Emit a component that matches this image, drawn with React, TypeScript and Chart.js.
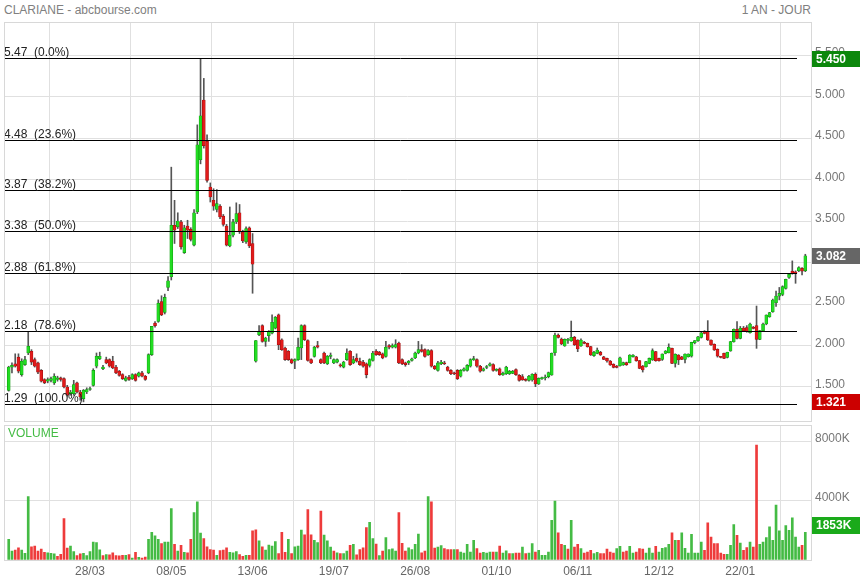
import React, { useEffect, useRef } from 'react';
import { Chart, registerables } from 'chart.js';

Chart.register(...registerables);

const TITLE = 'CLARIANE - abcbourse.com';
const PERIOD = '1 AN - JOUR';

const TICK_INDEX = [25, 50, 75, 100, 125, 150, 175, 200, 225];
const TICK_LABELS = ['28/03', '08/05', '13/06', '19/07', '26/08', '01/10', '06/11', '12/12', '22/01'];
const PRICE_TICKS = [1.5, 2, 2.5, 3, 3.5, 4, 4.5, 5, 5.5];
const VOLUME_TICKS = [4000, 8000];
const FIB_LEVELS = [5.47, 4.48, 3.87, 3.38, 2.88, 2.18, 1.29];
const FIB_PCT = ['0.0%', '23.6%', '38.2%', '50.0%', '61.8%', '78.6%', '100.0%'];

const OPEN = [
  1.46, 1.74, 1.78, 1.86, 1.65, 1.77, 1.91, 1.93, 1.83, 1.79,
  1.70, 1.59, 1.57, 1.58, 1.55, 1.59, 1.61, 1.60, 1.50, 1.42,
  1.42, 1.55, 1.44, 1.36, 1.44, 1.47, 1.52, 1.75, 1.84, 1.72,
  1.83, 1.83, 1.81, 1.74, 1.69, 1.65, 1.58, 1.62, 1.60, 1.65,
  1.63, 1.67, 1.63, 1.67, 1.89, 2.27, 2.29, 2.53, 2.40, 2.70,
  2.83, 3.45, 3.43, 3.49, 3.12, 3.44, 3.40, 3.21, 3.61, 4.24,
  4.96, 4.46, 3.91, 3.75, 3.64, 3.68, 3.56, 3.44, 3.20, 3.33,
  3.49, 3.60, 3.37, 3.25, 3.42, 3.23, 1.81, 2.13, 2.24, 2.05,
  2.12, 2.15, 2.21, 2.37, 2.07, 1.97, 1.93, 1.83, 1.81, 1.83,
  1.97, 2.24, 2.06, 1.83, 1.87, 2.00, 1.83, 1.91, 1.78, 1.87,
  1.79, 1.80, 1.765, 1.74, 1.83, 1.93, 1.79, 1.85, 1.81, 1.80,
  1.78, 1.76, 1.82, 1.93, 1.92, 1.90, 1.87, 2.00, 1.98, 1.98,
  2.03, 1.83, 1.79, 1.79, 1.82, 1.85, 1.91, 1.95, 1.95, 1.89,
  1.94, 1.75, 1.70, 1.78, 1.79, 1.74, 1.70, 1.67, 1.70, 1.63,
  1.70, 1.70, 1.75, 1.83, 1.83, 1.75, 1.70, 1.735, 1.76, 1.77,
  1.70, 1.72, 1.645, 1.66, 1.66, 1.665, 1.71, 1.64, 1.625, 1.595,
  1.58, 1.584, 1.653, 1.536, 1.600, 1.608, 1.625, 1.645, 1.914, 2.126,
  2.078, 1.994, 2.062, 2.058, 2.098, 2.066, 1.994, 2.038, 2.026, 1.986,
  1.878, 1.906, 1.918, 1.865, 1.845, 1.813, 1.773, 1.753, 1.757, 1.765,
  1.793, 1.793, 1.866, 1.865, 1.817, 1.753, 1.745, 1.785, 1.825, 1.926,
  1.845, 1.833, 1.906, 1.914, 1.966, 1.785, 1.886, 1.865, 1.833, 1.865,
  1.873, 2.034, 2.058, 2.098, 2.167, 2.167, 2.066, 2.014, 1.954, 1.862,
  1.906, 1.857, 1.934, 2.046, 2.195, 2.086, 2.211, 2.215, 2.155, 2.215,
  2.239, 2.074, 2.179, 2.259, 2.347, 2.408, 2.516, 2.596, 2.616, 2.689,
  2.821, 2.897, 2.889, 2.901, 2.929, 2.901,
];

const HIGH = [
  1.75, 1.79, 1.90, 1.90, 1.84, 1.87, 2.17, 1.95, 1.85, 1.80,
  1.71, 1.60, 1.61, 1.62, 1.66, 1.63, 1.62, 1.61, 1.52, 1.46,
  1.58, 1.56, 1.46, 1.47, 1.49, 1.50, 1.72, 1.91, 1.92, 1.76,
  1.86, 1.84, 1.87, 1.76, 1.70, 1.66, 1.63, 1.64, 1.66, 1.66,
  1.68, 1.69, 1.64, 1.90, 2.23, 2.29, 2.55, 2.60, 2.62, 2.83,
  4.15, 3.75, 3.60, 3.51, 3.45, 3.51, 3.42, 3.64, 4.66, 5.45,
  5.22, 4.54, 3.96, 3.89, 3.88, 3.70, 3.58, 3.46, 3.67, 3.52,
  3.72, 3.70, 3.39, 3.43, 3.43, 3.35, 2.06, 2.24, 2.25, 2.10,
  2.18, 2.37, 2.35, 2.38, 2.08, 1.98, 1.94, 1.84, 1.84, 2.09,
  2.25, 2.25, 2.07, 1.84, 1.99, 2.05, 1.84, 1.92, 1.88, 1.91,
  1.84, 1.84, 1.78, 1.81, 1.96, 1.94, 1.87, 1.90, 1.85, 1.82,
  1.79, 1.84, 1.93, 1.95, 1.93, 1.91, 2.05, 2.01, 2.02, 2.07,
  2.04, 1.84, 1.80, 1.82, 1.85, 1.92, 2.05, 2.01, 1.96, 1.95,
  1.95, 1.76, 1.81, 1.82, 1.81, 1.75, 1.71, 1.68, 1.71, 1.71,
  1.73, 1.77, 1.84, 1.87, 1.84, 1.76, 1.73, 1.76, 1.79, 1.78,
  1.72, 1.73, 1.68, 1.75, 1.70, 1.70, 1.72, 1.65, 1.65, 1.60,
  1.64, 1.66, 1.67, 1.61, 1.62, 1.645, 1.68, 1.91, 2.15, 2.14,
  2.09, 2.08, 2.086, 2.295, 2.11, 2.07, 2.08, 2.05, 2.03, 1.99,
  1.93, 1.97, 1.93, 1.87, 1.85, 1.82, 1.78, 1.76, 1.86, 1.80,
  1.80, 1.89, 1.89, 1.87, 1.82, 1.76, 1.81, 1.85, 1.96, 1.93,
  1.85, 1.90, 1.94, 2.02, 1.97, 1.90, 1.89, 1.87, 1.90, 1.90,
  2.04, 2.06, 2.11, 2.16, 2.18, 2.30, 2.07, 2.02, 1.96, 1.87,
  1.91, 1.92, 2.05, 2.20, 2.29, 2.23, 2.23, 2.24, 2.27, 2.23,
  2.476, 2.18, 2.27, 2.37, 2.40, 2.56, 2.656, 2.70, 2.72, 2.80,
  2.86, 3.02, 2.90, 2.95, 2.94, 3.10,
];

const LOW = [
  1.45, 1.67, 1.74, 1.67, 1.63, 1.76, 1.89, 1.77, 1.74, 1.66,
  1.56, 1.54, 1.55, 1.56, 1.53, 1.57, 1.57, 1.49, 1.39, 1.40,
  1.40, 1.43, 1.34, 1.321, 1.42, 1.46, 1.51, 1.73, 1.83, 1.71,
  1.78, 1.74, 1.72, 1.66, 1.63, 1.59, 1.57, 1.58, 1.59, 1.57,
  1.62, 1.62, 1.58, 1.66, 1.88, 2.22, 2.28, 2.36, 2.38, 2.66,
  2.79, 3.23, 3.41, 3.16, 3.11, 3.29, 3.26, 3.20, 3.59, 4.19,
  4.38, 3.97, 3.73, 3.63, 3.61, 3.53, 3.44, 3.20, 3.19, 3.31,
  3.47, 3.35, 3.24, 3.23, 3.18, 2.63, 1.80, 2.12, 2.04, 1.99,
  2.05, 2.14, 2.20, 1.95, 1.94, 1.82, 1.82, 1.78, 1.72, 1.82,
  1.83, 2.06, 1.81, 1.78, 1.86, 1.97, 1.78, 1.78, 1.77, 1.84,
  1.78, 1.79, 1.74, 1.73, 1.82, 1.76, 1.78, 1.80, 1.76, 1.74,
  1.61, 1.74, 1.81, 1.88, 1.88, 1.84, 1.86, 1.96, 1.97, 1.97,
  1.78, 1.77, 1.75, 1.77, 1.81, 1.84, 1.90, 1.92, 1.86, 1.88,
  1.74, 1.71, 1.69, 1.77, 1.77, 1.69, 1.65, 1.65, 1.59, 1.62,
  1.69, 1.69, 1.74, 1.82, 1.74, 1.68, 1.69, 1.72, 1.75, 1.69,
  1.69, 1.64, 1.64, 1.65, 1.65, 1.66, 1.64, 1.57, 1.58, 1.57,
  1.57, 1.57, 1.504, 1.53, 1.59, 1.584, 1.61, 1.64, 1.88, 2.09,
  2.01, 1.99, 2.026, 2.05, 2.00, 1.926, 1.99, 2.02, 1.98, 1.88,
  1.87, 1.90, 1.88, 1.83, 1.80, 1.76, 1.73, 1.73, 1.75, 1.76,
  1.76, 1.79, 1.86, 1.81, 1.72, 1.68, 1.74, 1.78, 1.82, 1.81,
  1.81, 1.82, 1.90, 1.91, 1.78, 1.74, 1.77, 1.83, 1.79, 1.86,
  1.86, 2.02, 2.05, 2.09, 2.14, 2.06, 2.00, 1.94, 1.86, 1.85,
  1.84, 1.85, 1.93, 2.04, 2.08, 2.08, 2.17, 2.16, 2.15, 2.20,
  1.966, 2.07, 2.17, 2.25, 2.34, 2.40, 2.47, 2.55, 2.60, 2.68,
  2.81, 2.86, 2.75, 2.89, 2.85, 2.89,
];

const CLOSE = [
  1.74, 1.76, 1.75, 1.69, 1.81, 1.83, 1.99, 1.80, 1.75, 1.68,
  1.57, 1.55, 1.59, 1.60, 1.63, 1.61, 1.59, 1.50, 1.40, 1.44,
  1.53, 1.44, 1.38, 1.46, 1.47, 1.48, 1.70, 1.87, 1.87, 1.74,
  1.79, 1.75, 1.73, 1.67, 1.64, 1.60, 1.61, 1.59, 1.65, 1.58,
  1.67, 1.63, 1.59, 1.89, 2.23, 2.24, 2.51, 2.37, 2.58, 2.78,
  3.45, 3.39, 3.50, 3.19, 3.42, 3.39, 3.28, 3.60, 4.42, 4.77,
  4.41, 3.99, 3.79, 3.68, 3.71, 3.55, 3.46, 3.21, 3.33, 3.49,
  3.59, 3.37, 3.26, 3.41, 3.20, 2.98, 2.06, 2.17, 2.05, 2.09,
  2.17, 2.28, 2.34, 2.01, 1.95, 1.83, 1.83, 1.79, 1.83, 1.98,
  2.24, 2.07, 1.82, 1.79, 1.98, 1.98, 1.79, 1.79, 1.87, 1.885,
  1.83, 1.83, 1.755, 1.80, 1.91, 1.77, 1.83, 1.81, 1.77, 1.75,
  1.65, 1.83, 1.91, 1.89, 1.89, 1.85, 1.98, 1.98, 2.00, 2.01,
  1.79, 1.78, 1.77, 1.81, 1.84, 1.91, 1.95, 1.93, 1.87, 1.94,
  1.75, 1.72, 1.79, 1.80, 1.78, 1.70, 1.66, 1.66, 1.60, 1.70,
  1.72, 1.76, 1.83, 1.835, 1.75, 1.69, 1.72, 1.74, 1.78, 1.70,
  1.705, 1.65, 1.665, 1.74, 1.69, 1.69, 1.65, 1.58, 1.585, 1.58,
  1.63, 1.653, 1.536, 1.604, 1.608, 1.616, 1.673, 1.906, 2.126, 2.098,
  2.018, 2.074, 2.070, 2.098, 2.010, 1.958, 2.066, 2.026, 1.986, 1.886,
  1.918, 1.946, 1.886, 1.833, 1.813, 1.765, 1.737, 1.737, 1.853, 1.793,
  1.769, 1.886, 1.886, 1.817, 1.725, 1.705, 1.805, 1.845, 1.938, 1.817,
  1.817, 1.898, 1.934, 1.978, 1.785, 1.894, 1.825, 1.833, 1.898, 1.898,
  2.038, 2.058, 2.106, 2.154, 2.146, 2.066, 2.006, 1.946, 1.873, 1.857,
  1.845, 1.918, 2.046, 2.195, 2.086, 2.207, 2.179, 2.167, 2.259, 2.207,
  2.074, 2.179, 2.259, 2.367, 2.396, 2.548, 2.596, 2.628, 2.709, 2.797,
  2.857, 2.869, 2.869, 2.941, 2.897, 3.082,
];

// volumes in thousands of shares
const VOLUME = [
  1386, 578, 647, 809, 647, 439, 4274, 878, 924, 578,
  716, 508, 462, 439, 393, 231, 370, 2795, 785, 924,
  554, 277, 393, 439, 277, 554, 1201, 1155, 670, 277,
  347, 323, 462, 277, 254, 300, 300, 347, 116, 508,
  162, 116, 185, 1386, 1848, 1617, 1386, 1086, 1201, 1201,
  3465, 1040, 578, 970, 508, 462, 1386, 3188, 3927, 1802,
  1432, 878, 693, 647, 300, 624, 647, 809, 508, 462,
  554, 347, 231, 300, 300, 1964, 2033, 1271, 878, 647,
  993, 924, 1224, 416, 1848, 508, 1386, 416, 878, 924,
  2010, 1686, 3400, 1686, 1317, 1155, 3300, 1663, 1271, 855,
  578, 462, 416, 416, 578, 970, 1040, 323, 693, 809,
  2171, 2541, 1432, 1063, 277, 578, 1502, 693, 739, 578,
  3188, 1109, 578, 809, 693, 1040, 1733, 462, 578, 4274,
  3920, 793, 861, 952, 748, 680, 680, 680, 680, 521,
  453, 1042, 521, 1314, 748, 453, 500, 453, 521, 521,
  521, 929, 453, 600, 408, 408, 453, 453, 861, 408,
  453, 1088, 521, 634, 295, 295, 521, 2674, 3966, 1813,
  1042, 974, 725, 2674, 861, 1042, 748, 453, 521, 634,
  408, 500, 408, 408, 725, 521, 453, 748, 906, 521,
  589, 906, 453, 521, 748, 725, 453, 793, 453, 906,
  521, 770, 816, 1042, 1813, 1314, 1314, 1813, 770, 453,
  1722, 453, 453, 1201, 634, 2493, 1541, 1088, 1088, 453,
  363, 363, 974, 2379, 1654, 1133, 634, 816, 1201, 861,
  7772, 1042, 1201, 1496, 2221, 1314, 3694, 1949, 1314, 2311,
  1994, 2833, 1541, 861, 974, 1853,
];

const X_MIN = -1.45;
const X_MAX = 246.75;
const PRICE_MIN = 1.09;
const PRICE_MAX = 5.9;
const VOLUME_MAX = 9130;

const FONT = "'Liberation Sans', Arial, Helvetica, sans-serif";
const GRID = '#e0e0e0';
const UP_FILL = '#22dd22';
const UP_LINE = '#119911';
const DOWN_FILL = '#e21b1b';
const DOWN_LINE = '#a00f0f';

function badge(ctx: CanvasRenderingContext2D, x: number, cy: number, w: number, h: number, bg: string, text: string) {
  ctx.fillStyle = bg;
  ctx.fillRect(x, Math.round(cy - h / 2), w, h);
  ctx.fillStyle = '#ffffff';
  ctx.font = `bold 12px ${FONT}`;
  ctx.textBaseline = 'middle';
  ctx.textAlign = 'left';
  ctx.fillText(text, x + 4, Math.round(cy) + 1);
}

function frame(chart: any) {
  const { ctx, chartArea: a } = chart;
  ctx.save();
  ctx.strokeStyle = '#d8d8d8';
  ctx.lineWidth = 1;
  ctx.strokeRect(Math.round(a.left) + 0.5, Math.round(a.top) + 0.5, Math.round(a.right - a.left), Math.round(a.bottom - a.top));
  ctx.restore();
}

function noPadding(s: any) {
  s.paddingTop = 0;
  s.paddingBottom = 0;
  s.paddingLeft = 0;
  s.paddingRight = 0;
}

const pricePlugin = {
  id: 'priceOverlay',
  afterDatasetsDraw(chart: any) {
    const { ctx, chartArea: a, scales } = chart;
    const y = scales.y;
    ctx.save();
    ctx.strokeStyle = '#000';
    ctx.lineWidth = 1;
    ctx.font = `12px ${FONT}`;
    ctx.fillStyle = '#222';
    ctx.textAlign = 'left';
    ctx.textBaseline = 'alphabetic';
    FIB_LEVELS.forEach((lv, k) => {
      const py = Math.round(y.getPixelForValue(lv)) + 0.5;
      ctx.beginPath();
      ctx.moveTo(a.left, py);
      ctx.lineTo(a.right - 14, py);
      ctx.stroke();
      ctx.fillText(`${lv.toFixed(2)}  (${FIB_PCT[k]})`, a.left, py - 3);
    });
    ctx.restore();
  },
  afterDraw(chart: any) {
    frame(chart);
    const { ctx, chartArea: a, scales } = chart;
    const y = scales.y;
    const hi = Math.max(...HIGH);
    const lo = Math.min(...LOW);
    const last = CLOSE[CLOSE.length - 1];
    ctx.save();
    badge(ctx, a.right + 1, y.getPixelForValue(hi), 48, 16, '#0c870c', hi.toFixed(3));
    badge(ctx, a.right + 1, y.getPixelForValue(last), 48, 16, '#666666', last.toFixed(3));
    badge(ctx, a.right + 1, y.getPixelForValue(lo), 48, 16, '#cc0000', lo.toFixed(3));
    ctx.restore();
  },
};

const volumePlugin = {
  id: 'volumeOverlay',
  afterDraw(chart: any) {
    frame(chart);
    const { ctx, chartArea: a, scales } = chart;
    ctx.save();
    ctx.font = `12px ${FONT}`;
    ctx.fillStyle = '#44bb44';
    ctx.textAlign = 'left';
    ctx.textBaseline = 'middle';
    ctx.fillText('VOLUME', a.left + 4, a.top + 9);
    const lastV = VOLUME[VOLUME.length - 1];
    badge(ctx, a.right + 1, scales.y.getPixelForValue(lastV) - 7, 48, 17, '#1aaa1a', `${lastV}K`);
    ctx.restore();
  },
};

export default function App() {
  const priceRef = useRef<HTMLCanvasElement>(null);
  const volRef = useRef<HTMLCanvasElement>(null);

  useEffect(() => {
    Chart.defaults.font.family = FONT;
    const idx = CLOSE.map((_, i) => i);
    const up = idx.map((i) => CLOSE[i] >= OPEN[i]);
    const volUp = idx.map((i) => (i === 0 ? true : CLOSE[i] >= CLOSE[i - 1]));

    const xScale = (showLabels: boolean) => ({
      type: 'linear',
      min: X_MIN,
      max: X_MAX,
      offset: false,
      afterBuildTicks: (s: any) => {
        s.ticks = TICK_INDEX.map((v) => ({ value: v }));
      },
      ticks: {
        display: showLabels,
        autoSkip: false,
        maxRotation: 0,
        color: '#666',
        font: { size: 12, family: FONT },
        padding: 5,
        callback: (_v: any, i: number) => TICK_LABELS[i],
      },
      grid: { color: GRID, drawTicks: false },
      border: { display: false },
      afterFit: (s: any) => {
        s.height = showLabels ? 20.3 : 0;
        noPadding(s);
      },
    });

    const yAfterFit = (s: any) => {
      s.width = 49;
      noPadding(s);
    };

    const priceChart = new Chart(priceRef.current!, {
      type: 'bar',
      data: {
        datasets: [
          {
            label: 'wick',
            data: idx.map((i) => ({ x: i, y: [LOW[i], HIGH[i]] })) as any,
            backgroundColor: '#555555',
            borderWidth: 0,
            barThickness: 1,
            grouped: false,
            order: 2,
          } as any,
          {
            label: 'body',
            data: idx.map((i) => ({ x: i, y: [OPEN[i], CLOSE[i]] })) as any,
            backgroundColor: idx.map((i) => (up[i] ? UP_FILL : DOWN_FILL)),
            borderColor: idx.map((i) => (up[i] ? UP_LINE : DOWN_LINE)),
            borderWidth: 0.6,
            borderSkipped: false,
            barThickness: 3,
            minBarLength: 1,
            grouped: false,
            order: 1,
          } as any,
        ],
      },
      options: {
        animation: false,
        responsive: false,
        maintainAspectRatio: false,
        events: [],
        layout: { padding: { left: 4, right: 0, top: 22, bottom: 4 } },
        plugins: { legend: { display: false }, tooltip: { enabled: false } },
        scales: {
          x: xScale(false) as any,
          y: {
            position: 'right',
            min: PRICE_MIN,
            max: PRICE_MAX,
            afterBuildTicks: (s: any) => {
              s.ticks = PRICE_TICKS.map((v) => ({ value: v }));
            },
            ticks: {
              color: '#777',
              font: { size: 12, family: FONT },
              padding: 4,
              labelOffset: -2,
              callback: (v: any) => Number(v).toFixed(3),
            },
            grid: { color: GRID, drawTicks: false },
            border: { display: false },
            afterFit: yAfterFit,
          } as any,
        },
      },
      plugins: [pricePlugin],
    });

    const volumeChart = new Chart(volRef.current!, {
      type: 'bar',
      data: {
        datasets: [
          {
            label: 'volume',
            data: idx.map((i) => ({ x: i, y: VOLUME[i] })) as any,
            backgroundColor: idx.map((i) => (volUp[i] ? '#44bb44' : '#ee3b3b')),
            borderWidth: 0,
            barThickness: 2,
            grouped: false,
          } as any,
        ],
      },
      options: {
        animation: false,
        responsive: false,
        maintainAspectRatio: false,
        events: [],
        layout: { padding: { left: 4, right: 0, top: 0, bottom: 0 } },
        plugins: { legend: { display: false }, tooltip: { enabled: false } },
        scales: {
          x: xScale(true) as any,
          y: {
            position: 'right',
            min: 0,
            max: VOLUME_MAX,
            afterBuildTicks: (s: any) => {
              s.ticks = VOLUME_TICKS.map((v) => ({ value: v }));
            },
            ticks: {
              color: '#777',
              font: { size: 12, family: FONT },
              padding: 4,
              labelOffset: -3,
              callback: (v: any) => `${v}K`,
            },
            grid: { color: GRID, drawTicks: false },
            border: { display: false },
            afterFit: yAfterFit,
          } as any,
        },
      },
      plugins: [volumePlugin],
    });

    return () => {
      priceChart.destroy();
      volumeChart.destroy();
    };
  }, []);

  const textStyle: React.CSSProperties = {
    position: 'absolute',
    top: 2,
    font: `12px ${FONT}`,
    color: '#808080',
    lineHeight: '16px',
    whiteSpace: 'nowrap',
  };

  return (
    <div style={{ position: 'absolute', left: 0, top: 0, width: 860, height: 580, background: '#fff', overflow: 'hidden' }}>
      <div style={{ ...textStyle, left: 4 }}>{TITLE}</div>
      <div style={{ ...textStyle, right: 49 }}>{PERIOD}</div>
      <canvas ref={priceRef} width={860} height={425} style={{ position: 'absolute', left: 0, top: 0, display: 'block' }} />
      <canvas ref={volRef} width={860} height={155} style={{ position: 'absolute', left: 0, top: 425, display: 'block' }} />
    </div>
  );
}
